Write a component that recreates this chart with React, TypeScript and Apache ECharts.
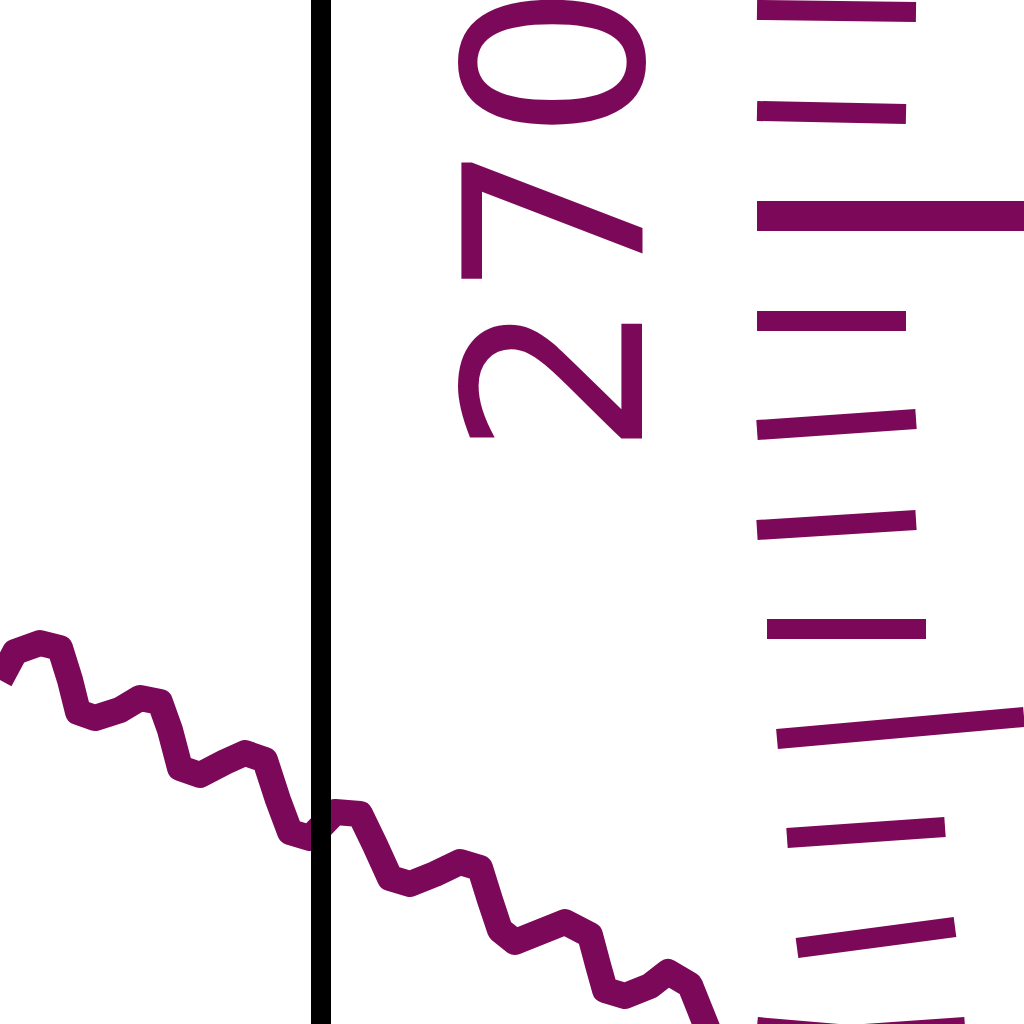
import { useEffect, useRef } from 'react'
import * as echarts from 'echarts'

// wave line (x, y in screen-like units, y grows downward)
const waveX = [0, 15, 40, 60, 70, 78, 95, 120, 140, 160, 170, 180, 200, 225, 245, 265, 278, 290, 310,
  335, 360, 375, 390, 410, 435, 460, 480, 490, 500, 515, 540, 565, 590, 598, 605, 625, 650, 668, 690, 700, 708]
const waveY = [680, 652, 643, 648, 680, 712, 718, 710, 698, 702, 730, 768, 775, 762, 753, 760, 800, 832, 838,
  812, 814, 845, 878, 884, 874, 862, 868, 900, 930, 942, 932, 922, 935, 965, 990, 996, 986, 972, 985, 1010, 1030]

// vertical rule
const ruleX = 321

// tick marks: start and end points
const tickFrom = [[757, 10], [757, 111], [757, 216], [757, 321], [757, 430], [757, 530], [767, 629], [777, 739], [787, 838], [797, 948]]
const tickTo = [[916, 12], [906, 114], [1024, 216], [906, 321], [916, 419], [916, 520], [926, 629], [1024, 717], [945, 827], [955, 927]]
// last tick, cut by the bottom edge
const lastTick = [[757, 1027], [850, 1035], [965, 1027]]
const majorTick = 2

const tickLabel = '270'

const PURPLE = '#7b0858'

export default function App() {
  const chartRef = useRef<HTMLDivElement>(null)

  useEffect(() => {
    if (!chartRef.current) return
    const chart = echarts.init(chartRef.current, null, { renderer: 'svg' })

    const tickData = tickFrom.map((p, i) => ({
      coords: [p, tickTo[i]],
      lineStyle: { width: i === majorTick ? 30 : 20 }
    }))

    const option: any = {
      animation: false,
      backgroundColor: '#ffffff',
      grid: { left: 0, right: 0, top: 0, bottom: 0 },
      xAxis: { type: 'value', min: 0, max: 1024, show: false },
      yAxis: { type: 'value', min: 0, max: 1024, inverse: true, show: false },
      graphic: [
        {
          type: 'text',
          x: 556,
          y: 220,
          rotation: Math.PI / 2,
          style: {
            text: tickLabel,
            fontSize: 248,
            fontFamily: 'DejaVu Sans',
            fill: PURPLE,
            align: 'center',
            verticalAlign: 'middle',
            textAlign: 'center',
            textVerticalAlign: 'middle'
          }
        }
      ],
      series: [
        {
          type: 'line',
          data: waveX.map((x, i) => [x, waveY[i]]),
          showSymbol: false,
          symbol: 'none',
          silent: true,
          lineStyle: { color: PURPLE, width: 26, join: 'round' },
          markLine: {
            silent: true,
            symbol: 'none',
            label: { show: false },
            lineStyle: { color: '#000000', width: 20, type: 'solid' },
            data: [{ xAxis: ruleX }]
          }
        },
        {
          type: 'lines',
          coordinateSystem: 'cartesian2d',
          silent: true,
          lineStyle: { color: PURPLE, opacity: 1, curveness: 0, cap: 'butt' },
          data: tickData
        },
        {
          type: 'lines',
          coordinateSystem: 'cartesian2d',
          polyline: true,
          silent: true,
          lineStyle: { color: PURPLE, opacity: 1, width: 20 },
          data: [{ coords: lastTick }]
        }
      ]
    }

    chart.setOption(option)
    return () => {
      chart.dispose()
    }
  }, [])

  return (
    <div
      ref={chartRef}
      style={{ position: 'fixed', left: 0, top: 0, width: '1024px', height: '1024px' }}
    />
  )
}
